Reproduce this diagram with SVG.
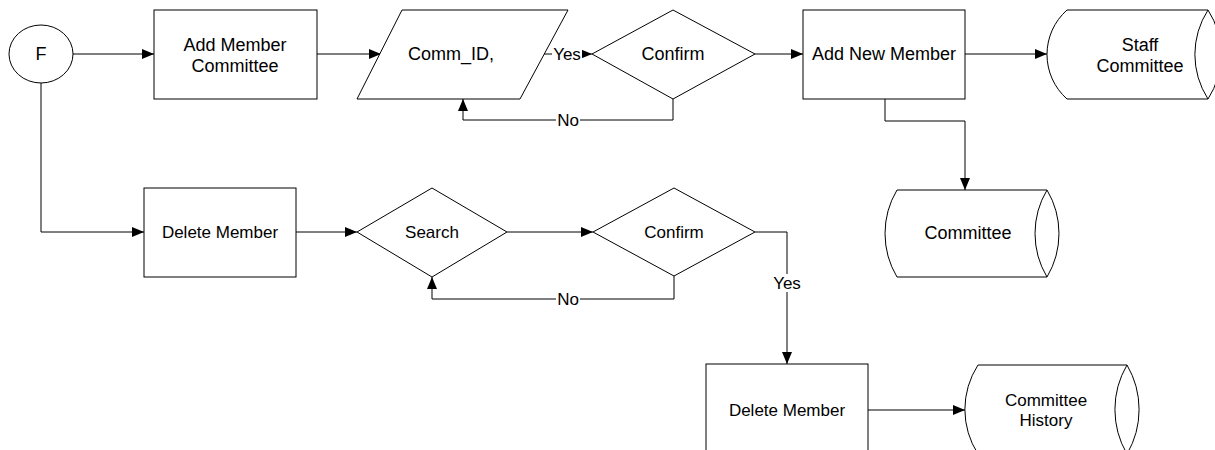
<svg xmlns="http://www.w3.org/2000/svg" width="1215" height="450" viewBox="0 0 1215 450">
  <defs>
    <marker id="arrow" viewBox="0 0 12 10" refX="12" refY="5" markerWidth="12" markerHeight="10" markerUnits="userSpaceOnUse" orient="auto">
      <path d="M0,0 L12,5 L0,10 Z" fill="#000"/>
    </marker>
  </defs>
  <style>
    .shape { fill: #fff; stroke: #000; stroke-width: 1; }
    .edge { fill: none; stroke: #000; stroke-width: 1; }
    .arr { marker-end: url(#arrow); }
    text { font-family: "Liberation Sans", Arial, sans-serif; fill: #000; text-anchor: middle; }
    .t18 { font-size: 18px; }
    .t17 { font-size: 17px; }
    .lbl { font-size: 17px; }
    .lblbg { fill: #fff; stroke: none; }
  </style>
  <rect width="1215" height="450" fill="#fff"/>

  <!-- connectors -->
  <g id="connectors">
    <path class="edge arr" d="M73,54 H154"/>
    <path class="edge arr" d="M317,54 H381"/>
    <path class="edge arr" d="M544,54 H592"/>
    <path class="edge" d="M673,99 V120 H463"/>
    <path class="edge arr" d="M463,120 V99"/>
    <path class="edge arr" d="M755,54 H803"/>
    <path class="edge arr" d="M965,54 H1047"/>
    <path class="edge arr" d="M885,99 V121 H965 V190"/>
    <path class="edge arr" d="M41,83 V232 H144"/>
    <path class="edge arr" d="M296,232 H357"/>
    <path class="edge arr" d="M507,232 H593"/>
    <path class="edge arr" d="M674,276 V299 H432 V277"/>
    <path class="edge arr" d="M755,232 H787 V364"/>
    <path class="edge arr" d="M868,410 H965"/>
    <!-- edge labels -->
    <rect class="lblbg" x="552" y="45" width="30" height="18"/>
    <text class="lbl" x="567" y="60">Yes</text>
    <rect class="lblbg" x="556" y="111" width="24" height="18"/>
    <text class="lbl" x="568" y="126">No</text>
    <rect class="lblbg" x="556" y="290" width="24" height="18"/>
    <text class="lbl" x="568" y="305">No</text>
    <rect class="lblbg" x="772" y="274" width="30" height="18"/>
    <text class="lbl" x="787" y="289">Yes</text>
  </g>

  <g id="start-F">
    <ellipse class="shape" cx="41" cy="54" rx="32" ry="29"/>
    <text class="t18" x="41" y="60">F</text>
  </g>

  <g id="add-member-committee">
    <rect class="shape" x="154" y="10" width="163" height="89"/>
    <text class="t18" x="235" y="51">Add Member</text>
    <text class="t18" x="235" y="72">Committee</text>
  </g>

  <g id="comm-id-input">
    <path class="shape" d="M402,10 H568 L520,99 H357 Z"/>
    <text class="t18" x="451" y="60">Comm_ID,</text>
  </g>

  <g id="confirm-add">
    <path class="shape" d="M673,10 L755,54 L673,99 L592,54 Z"/>
    <text class="t18" x="673" y="60">Confirm</text>
  </g>

  <g id="add-new-member">
    <rect class="shape" x="803" y="10" width="162" height="89"/>
    <text class="t18" x="884" y="60">Add New Member</text>
  </g>

  <!-- stored-data shapes: curved left side, lens on the right -->
  <g id="staff-committee">
    <path class="edge" d="M1067,10 H1208 M1067,99 H1208 M1067,10 A59.5,59.5 0 0 0 1067,99 M1208,10 A82,82 0 0 0 1208,99 M1208,10 A82,82 0 0 1 1208,99"/>
    <text class="t18" x="1140" y="51">Staff</text>
    <text class="t18" x="1140" y="72">Committee</text>
  </g>

  <g id="committee">
    <path class="edge" d="M897,190 H1047 M897,277 H1047 M897,190 A85,85 0 0 0 897,277 M1047,190 A85,85 0 0 0 1047,277 M1047,190 A85,85 0 0 1 1047,277"/>
    <text class="t18" x="968" y="239">Committee</text>
  </g>

  <g id="delete-member">
    <rect class="shape" x="144" y="188" width="152" height="89"/>
    <text class="t17" x="220" y="238">Delete Member</text>
  </g>

  <g id="search">
    <path class="shape" d="M432,188 L507,232 L432,277 L357,232 Z"/>
    <text class="t17" x="432" y="238">Search</text>
  </g>

  <g id="confirm-delete">
    <path class="shape" d="M674,188 L755,232 L674,276 L593,232 Z"/>
    <text class="t17" x="674" y="238">Confirm</text>
  </g>

  <g id="delete-member-record">
    <rect class="shape" x="706" y="364" width="162" height="90"/>
    <text class="t17" x="787" y="416">Delete Member</text>
  </g>

  <g id="committee-history">
    <path class="edge" d="M978,365 H1127 M978,454 H1127 M978,365 A82,82 0 0 0 978,454 M1127,365 A88,88 0 0 0 1127,454 M1127,365 A88,88 0 0 1 1127,454"/>
    <text class="t17" x="1046" y="406">Committee</text>
    <text class="t17" x="1046" y="426">History</text>
  </g>
</svg>
